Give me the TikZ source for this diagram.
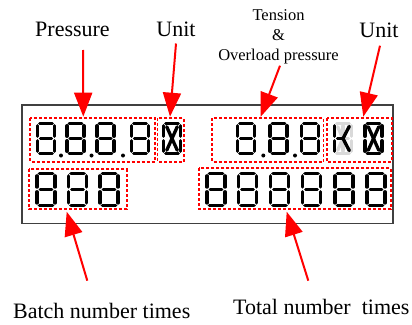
\documentclass[tikz,border=0pt]{standalone}
\usepackage{fontspec}
\setmainfont{Liberation Serif}
\usetikzlibrary{arrows.meta}
\tikzset{
  seg/.style={line width=3.3pt, line cap=round, draw=black},
  gseg/.style={line width=3.3pt, line cap=round, draw=black!15},
  dbox/.style={draw=red, line width=1.8pt, dash pattern=on 3pt off 2pt},
  redarrow/.style={draw=red, line width=2pt, -{Triangle[length=24pt,width=18pt]}, red},
  bigtext/.style={font=\fontsize{22}{26}\selectfont, inner sep=0pt, anchor=base},
  frame/.style={draw=black!75, line width=1.1pt},
  pics/seven/.style={code={
    \draw[seg] (2.2,0) -- (14.8,0);
    \draw[seg] (17,2.2) -- (17,12.8);
    \draw[seg] (17,17.2) -- (17,27.8);
    \draw[seg] (2.2,30) -- (14.8,30);
    \draw[seg] (0,17.2) -- (0,27.8);
    \draw[seg] (0,2.2) -- (0,12.8);
    \draw[seg] (3,15) -- (14,15);
  }},
  pics/hourglass/.style={code={
    \draw[seg] (2.2,0) -- (14.8,0);
    \draw[seg] (17,2.2) -- (17,12.8);
    \draw[seg] (17,17.2) -- (17,27.8);
    \draw[seg] (2.2,30) -- (14.8,30);
    \draw[seg] (0,17.2) -- (0,27.8);
    \draw[seg] (0,2.2) -- (0,12.8);
    \draw[seg] (3.2,3.2) -- (13.8,26.8);
    \draw[seg] (13.8,3.2) -- (3.2,26.8);
  }},
  pics/kdigit/.style={code={
    \draw[gseg] (2.2,0) -- (14.8,0);
    \draw[gseg] (17,2.2) -- (17,12.8);
    \draw[gseg] (17,17.2) -- (17,27.8);
    \draw[gseg] (2.2,30) -- (14.8,30);
    \draw[gseg] (8.5,2.5) -- (8.5,12.5);
    \draw[gseg] (8.5,17.5) -- (8.5,27.5);
    \draw[gseg] (3.2,3.2) -- (7,12);
    \draw[gseg] (3.2,26.8) -- (7,18);
    \draw[gseg] (10.5,15) -- (14,15);
    \draw[seg] (0,17.2) -- (0,27.8);
    \draw[seg] (0,2.2) -- (0,12.8);
    \draw[seg] (3,15) -- (7,15);
    \draw[seg] (8.5,15) -- (14.8,2.8);
    \draw[seg] (8.5,15) -- (14.8,27.2);
  }}
}
\begin{document}
\begin{tikzpicture}[x=1pt,y=-1pt]
\useasboundingbox (0,0) rectangle (412,324);
% frame
\draw[frame] (22,105) rectangle (393,223.3);
% dashed boxes
\draw[dbox] (30,118.3) rectangle (155,161.7);
\draw[dbox] (157.5,118.3) rectangle (184,161.7);
\draw[dbox] (212,118.3) rectangle (323.5,161.7);
\draw[dbox] (326.7,118.3) rectangle (391.7,161.7);
\draw[dbox] (29,169) rectangle (126.7,209);
\draw[dbox] (199,168.3) rectangle (391,209);
% pressure digits
\pic at (37.5,123.5) {seven};
\pic at (67,123.5) {seven};
\pic at (97,123.5) {seven};
\pic at (131.5,123.5) {seven};
\fill (61,155.5) circle (2);
\fill (91.5,155.5) circle (2);
\fill (123,155.5) circle (2);
\pic at (163.5,123.5) {hourglass};
% tension digits
\pic at (237.5,123.5) {seven};
\pic at (270,123.5) {seven};
\pic at (301.5,123.5) {seven};
\fill (263.3,155.5) circle (2);
\fill (295,155.5) circle (2);
% unit 2
\pic at (334.5,123.5) {kdigit};
\pic at (365,123.5) {hourglass};
% batch digits
\pic[scale=1.06] at (37,173.5) {seven};
\pic[scale=1.06] at (68.5,173.5) {seven};
\pic[scale=1.06] at (100,173.5) {seven};
% total digits
\pic[scale=1.06] at (207,173.5) {seven};
\pic[scale=1.06] at (238.5,173.5) {seven};
\pic[scale=1.06] at (270.5,173.5) {seven};
\pic[scale=1.06] at (302.5,173.5) {seven};
\pic[scale=1.06] at (335,173.5) {seven};
\pic[scale=1.06] at (367,173.5) {seven};
% labels
\node[bigtext] (lpress) at (72.5,36.7) {Pressure};
\node[bigtext] (lunit) at (176,36.7) {Unit};
\node[bigtext] (lunit2) at (379,37.3) {Unit};
\node[font=\fontsize{16.5}{20}\selectfont, align=center, inner sep=0pt, anchor=north] (ltension) at (278.5,9.4) {Tension\\\&\\Overload pressure};
\node[bigtext] (lbatch) at (101.7,318.3) {Batch number times};
\node[bigtext] (ltotal) at (321.3,314) {Total number\ \ times};
% arrow coordinates
\coordinate (s1) at (83,50);      \coordinate (e1) at (83.3,116.7);
\coordinate (s2) at (176,43.5);   \coordinate (e2) at (170,116.7);
\coordinate (s3) at (280,65.7);   \coordinate (e3) at (260.7,116.7);
\coordinate (s4) at (380,45.7);   \coordinate (e4) at (363.3,116.7);
\coordinate (s5) at (87.3,280.7); \coordinate (e5) at (66.7,211.7);
\coordinate (s6) at (308.3,280.7);\coordinate (e6) at (286.7,211.7);
\draw[redarrow] (s1) -- (e1);
\draw[redarrow] (s2) -- (e2);
\draw[redarrow] (s3) -- (e3);
\draw[redarrow] (s4) -- (e4);
\draw[redarrow] (s5) -- (e5);
\draw[redarrow] (s6) -- (e6);
\end{tikzpicture}
\end{document}
